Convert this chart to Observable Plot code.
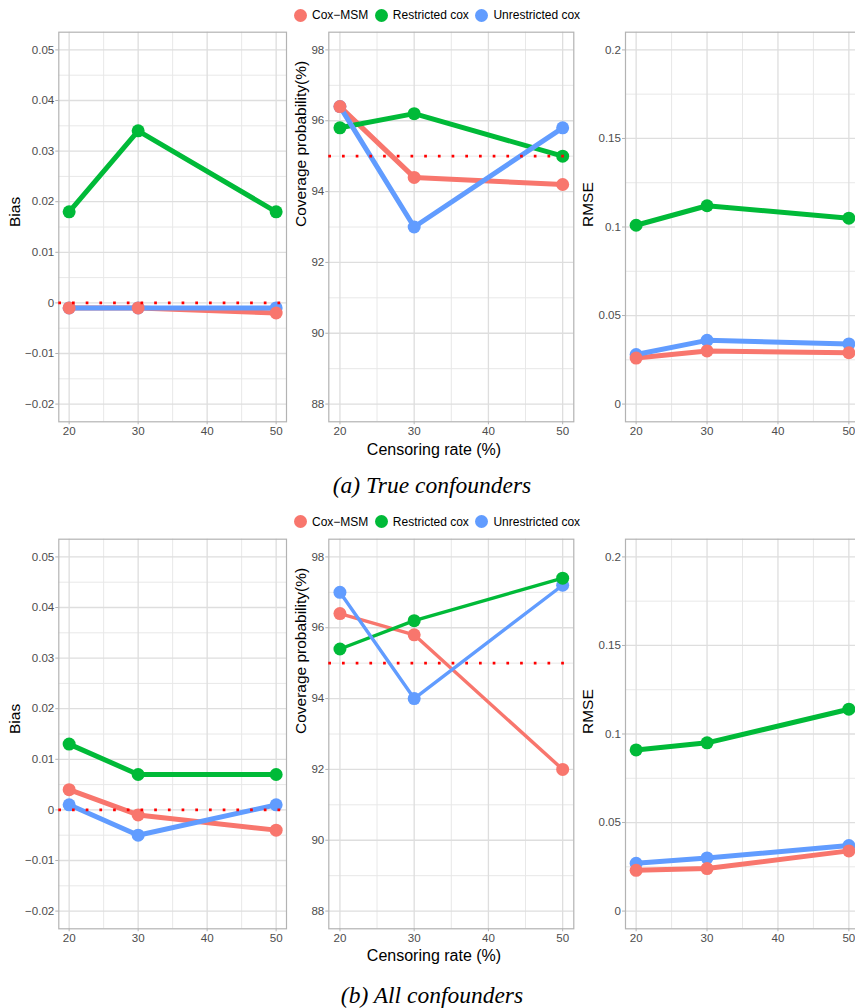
<!DOCTYPE html>
<html><head><meta charset="utf-8">
<script src="https://cdn.jsdelivr.net/npm/d3@7"></script>
<script src="https://cdn.jsdelivr.net/npm/@observablehq/plot@0.6"></script>
<style>
html,body{margin:0;padding:0;background:#fff;overflow:hidden;}
#root{position:relative;width:855px;height:1008px;overflow:hidden;font-family:"Liberation Sans",Arial,sans-serif;}
#root svg{position:absolute;}
.legend{position:absolute;display:flex;align-items:center;height:13px;font-size:12px;color:#000;white-space:nowrap;line-height:1;}
.legend .item{display:flex;align-items:center;margin-right:6.5px;}
.legend .dot{width:13px;height:13px;border-radius:50%;margin-right:5px;}
.xtitle{position:absolute;font-size:16px;line-height:1;color:#000;transform:translateX(-50%);white-space:nowrap;}
.caption{position:absolute;font-family:"Liberation Serif","Times New Roman",serif;font-style:italic;font-size:23.5px;line-height:1;color:#000;transform:translateX(-50%);white-space:nowrap;}
</style>
</head><body><div id="root"></div>
<script>
// ---------- data ----------
const censoringRate = [20, 30, 50];
const xTicks = [20, 30, 40, 50];
const methods = ["Cox\u2212MSM", "Restricted cox", "Unrestricted cox"];
const methodColors = ["#F8766D", "#00BA38", "#619CFF"];

// (a) True confounders
const biasTrueCoxMSM = [-0.001, -0.001, -0.002];
const biasTrueRestricted = [0.018, 0.034, 0.018];
const biasTrueUnrestricted = [-0.001, -0.001, -0.001];
const coverTrueCoxMSM = [96.4, 94.4, 94.2];
const coverTrueRestricted = [95.8, 96.2, 95.0];
const coverTrueUnrestricted = [96.4, 93.0, 95.8];
const rmseTrueCoxMSM = [0.026, 0.030, 0.029];
const rmseTrueRestricted = [0.101, 0.112, 0.105];
const rmseTrueUnrestricted = [0.028, 0.036, 0.034];

// (b) All confounders
const biasAllCoxMSM = [0.004, -0.001, -0.004];
const biasAllRestricted = [0.013, 0.007, 0.007];
const biasAllUnrestricted = [0.001, -0.005, 0.001];
const coverAllCoxMSM = [96.4, 95.8, 92.0];
const coverAllRestricted = [95.4, 96.2, 97.4];
const coverAllUnrestricted = [97.0, 94.0, 97.2];
const rmseAllCoxMSM = [0.023, 0.024, 0.034];
const rmseAllRestricted = [0.091, 0.095, 0.114];
const rmseAllUnrestricted = [0.027, 0.030, 0.037];

const biasTicks = [-0.02, -0.01, 0, 0.01, 0.02, 0.03, 0.04, 0.05];
const coverTicks = [88, 90, 92, 94, 96, 98];
const rmseTicks = [0, 0.05, 0.1, 0.15, 0.2];
const biasReference = [0];
const coverReference = [95];

const xTitle = "Censoring rate (%)";
const captions = ["(a) True confounders", "(b) All confounders"];

// ---------- drawing ----------
const root = document.getElementById("root");
const FRAME_TOP = 31.7, FRAME_H = 389.6, FRAME_BOTTOM_MARGIN = 20;
const fmt = d3.format("");

function panel({left, top, ml, frameW, domain, ticks, series, reference, title, titleDx, sw}) {
  const width = ml + frameW + 2;
  const height = FRAME_TOP + FRAME_H + FRAME_BOTTOM_MARGIN;
  const yMinor = d3.pairs(ticks, (a, b) => (a + b) / 2);
  const xMinor = d3.pairs(xTicks, (a, b) => (a + b) / 2);
  const rows = series.map((vals, k) => vals.map((v, i) => ({x: censoringRate[i], y: v, method: methods[k]})));
  const lineMarks = rows.map((r, k) => Plot.line(r, {x: "x", y: "y", stroke: methodColors[k], strokeWidth: sw, strokeLinejoin: "round"}));
  const dotMarks = [2, 1, 0].map(k => Plot.dot(rows[k], {x: "x", y: "y", r: 6.5, fill: methodColors[k]}));
  const marks = [
    Plot.gridX(xMinor, {stroke: "#E8E8E8", strokeOpacity: 1, strokeWidth: 1}),
    Plot.gridY(yMinor, {stroke: "#E8E8E8", strokeOpacity: 1, strokeWidth: 1}),
    Plot.gridX(xTicks, {stroke: "#DEDEDE", strokeOpacity: 1, strokeWidth: 1.3}),
    Plot.gridY(ticks, {stroke: "#DEDEDE", strokeOpacity: 1, strokeWidth: 1.3}),
    Plot.frame({stroke: "#B3B3B3", strokeWidth: 1.2}),
    Plot.axisX(xTicks, {tickSize: 3, tickPadding: 2, stroke: "#B3B3B3", fill: "#4D4D4D", label: null, tickFormat: fmt}),
    Plot.axisY(ticks, {tickSize: 3, tickPadding: 1.5, stroke: "#B3B3B3", fill: "#4D4D4D", label: null, tickFormat: fmt}),
    Plot.text([title], {text: d => d, frameAnchor: "left", dx: titleDx, rotate: -90, fontSize: 15.5, fill: "#000"}),
    ...lineMarks,
    ...dotMarks
  ];
  if (reference) marks.push(Plot.ruleY(reference, {stroke: "#FF0000", strokeWidth: 2.7, strokeDasharray: "2.7,11"}));
  const svg = Plot.plot({
    width, height,
    marginLeft: ml, marginRight: 2, marginTop: FRAME_TOP, marginBottom: FRAME_BOTTOM_MARGIN,
    x: {domain: [18.5, 51.5]},
    y: {domain},
    style: {background: "transparent", fontFamily: "'Liberation Sans', Arial, sans-serif", fontSize: "11.6px", overflow: "visible", maxWidth: "none"},
    marks
  });
  svg.style.left = left + "px";
  svg.style.top = top + "px";
  root.appendChild(svg);
}

function legend(top) {
  const div = document.createElement("div");
  div.className = "legend";
  div.style.left = "294px";
  div.style.top = (top + 8.5) + "px";
  methods.forEach((m, k) => {
    const item = document.createElement("div");
    item.className = "item";
    const dot = document.createElement("div");
    dot.className = "dot";
    dot.style.background = methodColors[k];
    const span = document.createElement("span");
    span.textContent = m;
    item.appendChild(dot); item.appendChild(span);
    div.appendChild(item);
  });
  root.appendChild(div);
}

function textDiv(cls, text, cx, top) {
  const d = document.createElement("div");
  d.className = cls;
  d.textContent = text;
  d.style.left = cx + "px";
  d.style.top = top + "px";
  root.appendChild(d);
}

const rowsSpec = [
  {top: 0, bias: [biasTrueCoxMSM, biasTrueRestricted, biasTrueUnrestricted],
   cover: [coverTrueCoxMSM, coverTrueRestricted, coverTrueUnrestricted],
   rmse: [rmseTrueCoxMSM, rmseTrueRestricted, rmseTrueUnrestricted], coverSw: 5, captionTop: 474.3},
  {top: 506.5, bias: [biasAllCoxMSM, biasAllRestricted, biasAllUnrestricted],
   cover: [coverAllCoxMSM, coverAllRestricted, coverAllUnrestricted],
   rmse: [rmseAllCoxMSM, rmseAllRestricted, rmseAllUnrestricted], coverSw: 3.4, captionTop: 983.6}
];

rowsSpec.forEach((row, r) => {
  legend(row.top);
  panel({left: 0, top: row.top, ml: 58.3, frameW: 227.7, domain: [-0.0235, 0.0535], ticks: biasTicks,
         series: row.bias, reference: biasReference, title: "Bias", titleDx: -44, sw: 5});
  panel({left: 288, top: row.top, ml: 40.3, frameW: 245, domain: [87.5, 98.5], ticks: coverTicks,
         series: row.cover, reference: coverReference, title: "Coverage probability(%)", titleDx: -27.5, sw: row.coverSw});
  panel({left: 575.3, top: row.top, ml: 50, frameW: 234, domain: [-0.01, 0.21], ticks: rmseTicks,
         series: row.rmse, reference: null, title: "RMSE", titleDx: -37.8, sw: 5});
  textDiv("xtitle", xTitle, 434, row.top + 441.5);
  textDiv("caption", captions[r], 432, row.captionTop);
});
</script>
</body></html>
